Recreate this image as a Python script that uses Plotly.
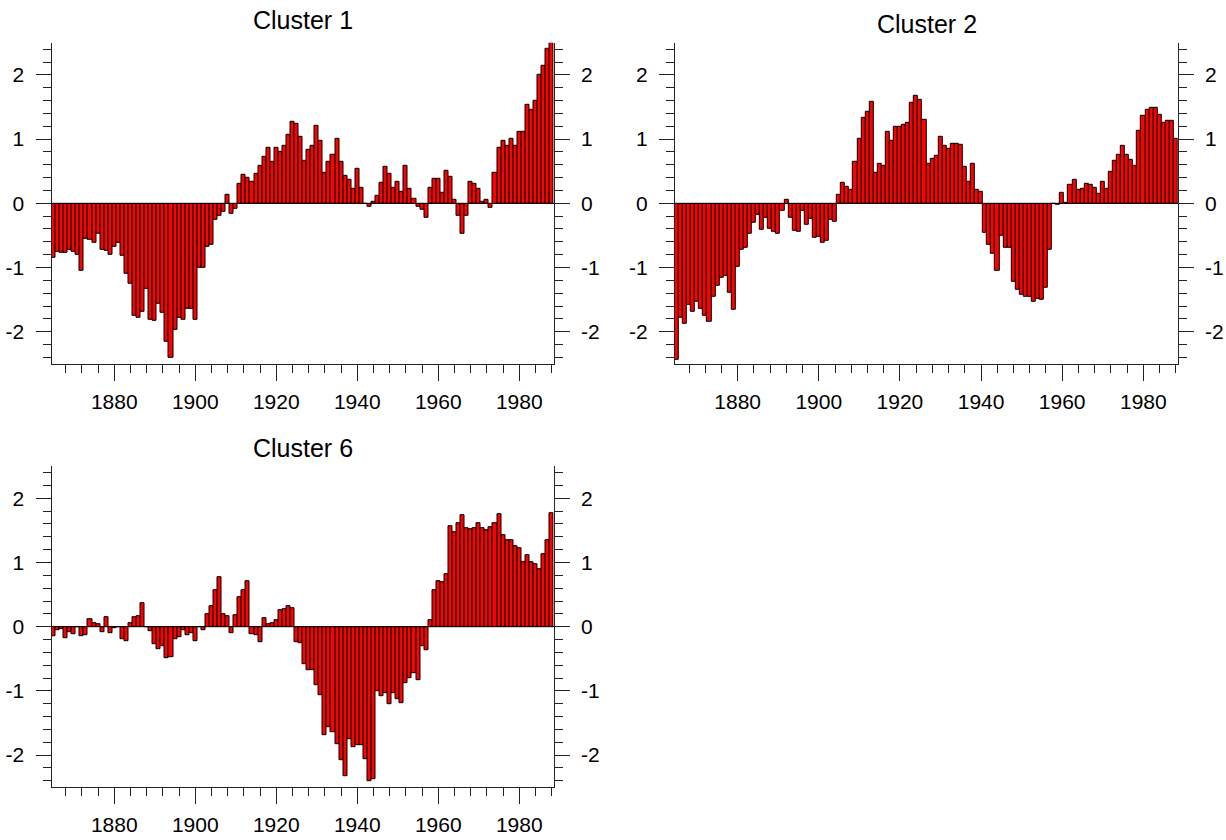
import plotly.graph_objects as go

# Years covered by each series (one bar per year)
years = list(range(1865, 1989))

cluster1 = [
    -0.85, -0.75, -0.77, -0.77, -0.72, -0.76, -0.80, -1.05, -0.56, -0.57,  # 1865-1874
    -0.61, -0.48, -0.73, -0.74, -0.80, -0.67, -0.61, -0.81, -1.10, -1.26,  # 1875-1884
    -1.75, -1.78, -1.69, -1.33, -1.81, -1.83, -1.56, -1.70, -2.15, -2.41,  # 1885-1894
    -1.97, -1.79, -1.81, -1.65, -1.64, -1.82, -1.01, -1.00, -0.67, -0.64,  # 1895-1904
    -0.25, -0.20, -0.14, 0.14, -0.16, -0.08, 0.30, 0.44, 0.40, 0.33,       # 1905-1914
    0.46, 0.59, 0.73, 0.87, 0.65, 0.86, 0.81, 0.89, 1.07, 1.27,            # 1915-1924
    1.24, 1.04, 0.66, 0.83, 0.89, 1.20, 0.98, 0.48, 0.64, 0.76,            # 1925-1934
    1.01, 0.64, 0.43, 0.36, 0.22, 0.53, 0.24, 0.00, -0.06, 0.03,           # 1935-1944
    0.12, 0.32, 0.57, 0.46, 0.24, 0.33, 0.18, 0.58, 0.22, 0.07,            # 1945-1954
    -0.05, -0.10, -0.22, 0.24, 0.38, 0.38, 0.17, 0.50, 0.42, 0.06,         # 1955-1964
    -0.20, -0.48, -0.19, 0.33, 0.30, 0.23, 0.02, 0.05, -0.07, 0.47,        # 1965-1974
    0.87, 0.97, 0.90, 1.01, 0.89, 1.11, 1.12, 1.54, 1.45, 1.60,            # 1975-1984
    2.00, 2.14, 2.41, 2.55,                                                # 1985-1988
]

cluster2 = [
    -2.43, -1.79, -1.88, -1.58, -1.69, -1.54, -1.64, -1.75, -1.85, -1.45,
    -1.28, -1.16, -1.13, -1.39, -1.66, -0.99, -0.72, -0.69, -0.47, -0.30,
    -0.18, -0.42, -0.22, -0.39, -0.45, -0.47, -0.12, 0.06, -0.22, -0.43,
    -0.45, -0.11, -0.34, -0.24, -0.53, -0.52, -0.61, -0.58, -0.26, -0.29,
    0.14, 0.32, 0.26, 0.21, 0.64, 1.00, 1.33, 1.42, 1.58, 0.48,
    0.61, 0.59, 1.11, 0.98, 1.19, 1.19, 1.23, 1.26, 1.56, 1.67,
    1.62, 1.30, 0.61, 0.70, 0.74, 1.04, 0.89, 0.85, 0.92, 0.92,
    0.91, 0.57, 0.34, 0.62, 0.21, 0.18, -0.46, -0.64, -0.79, -1.05,
    -0.50, -0.69, -0.69, -1.22, -1.34, -1.42, -1.46, -1.46, -1.53, -1.48,
    -1.51, -1.31, -0.72, 0.00, -0.02, 0.17, 0.01, 0.29, 0.36, 0.21,
    0.22, 0.31, 0.29, 0.24, 0.15, 0.33, 0.22, 0.49, 0.66, 0.76,
    0.90, 0.75, 0.67, 0.58, 1.13, 1.37, 1.45, 1.48, 1.48, 1.38,
    1.26, 1.29, 1.29, 1.00,
]

cluster6 = [
    -0.15, -0.05, -0.04, -0.18, -0.08, -0.11, -0.01, -0.15, -0.13, 0.11,
    0.05, 0.04, -0.09, 0.15, -0.10, -0.02, 0.00, -0.20, -0.22, 0.06,
    0.15, 0.16, 0.36, -0.01, -0.07, -0.27, -0.35, -0.31, -0.49, -0.48,
    -0.20, -0.17, -0.05, -0.14, -0.10, -0.23, 0.00, -0.06, 0.19, 0.32,
    0.57, 0.77, 0.19, 0.17, -0.10, 0.18, 0.46, 0.57, 0.71, -0.11,
    -0.14, -0.24, 0.13, 0.04, 0.05, 0.10, 0.26, 0.28, 0.32, 0.29,
    -0.24, -0.26, -0.59, -0.68, -0.68, -0.91, -1.07, -1.69, -1.57, -1.65,
    -1.83, -2.08, -2.33, -1.76, -1.87, -1.85, -1.85, -2.07, -2.40, -2.38,
    -1.00, -1.09, -1.04, -1.20, -1.04, -1.13, -1.19, -0.88, -0.80, -0.72,
    -0.84, -0.30, -0.37, 0.10, 0.57, 0.71, 0.70, 0.82, 1.57, 1.47,
    1.61, 1.73, 1.53, 1.52, 1.53, 1.61, 1.54, 1.50, 1.55, 1.61,
    1.75, 1.42, 1.34, 1.34, 1.26, 1.23, 1.00, 1.11, 1.00, 0.97,
    0.90, 1.13, 1.34, 1.77,
]

titles = ["Cluster 1", "Cluster 2", "Cluster 6"]
series = [cluster1, cluster2, cluster6]

# value-axis ticks and their printed labels (plain hyphen minus)
y_tickvals = [-2, -1, 0, 1, 2]
y_ticktext = ["-2", "-1", "0", "1", "2"]
x_tickvals = [1880, 1900, 1920, 1940, 1960, 1980]
x_ticktext = ["1880", "1900", "1920", "1940", "1960", "1980"]

W, H = 1226, 840
FONT = "Liberation Sans, Arial, Helvetica, sans-serif"
AXC = "#222222"
TICK_SIZE = 21

# panel boxes in pixels: (left, right, top, bottom)
boxes = [(51.5, 553.7, 42.8, 363.8),
         (674.8, 1177.8, 42.8, 363.8),
         (51.5, 553.7, 466.2, 787.2)]
# title centres in pixels (x, y)
title_pos = [(302.5, 19.5), (926.5, 24.2), (302.5, 448.2)]

fig = go.Figure()
layout = dict(
    width=W, height=H, margin=dict(l=0, r=0, t=0, b=0),
    paper_bgcolor="white", plot_bgcolor="white",
    showlegend=False, bargap=0,
    font=dict(family=FONT, color="black"),
    annotations=[],
)

for i, (vals, title, box) in enumerate(zip(series, titles, boxes)):
    n = i + 1
    xa = "x" if n == 1 else f"x{n}"
    ya = "y" if n == 1 else f"y{n}"
    yr = f"y{n + 3}"
    left, right, top, bottom = box

    fig.add_trace(go.Bar(
        x=years, y=vals, width=1.0, xaxis=xa, yaxis=ya,
        marker=dict(color="#ff0000", line=dict(color="black", width=1)),
        cliponaxis=False, hoverinfo="x+y",
    ))
    # companion trace so the right-hand value axis is drawn
    fig.add_trace(go.Scatter(
        x=years, y=vals, xaxis=xa, yaxis=yr, mode="markers",
        marker=dict(opacity=0), hoverinfo="skip",
    ))

    xkey = "xaxis" if n == 1 else f"xaxis{n}"
    ykey = "yaxis" if n == 1 else f"yaxis{n}"
    rkey = f"yaxis{n + 3}"

    layout[xkey] = dict(
        domain=[left / W, right / W], anchor=ya,
        range=[1864.5, 1988.5], showgrid=False, zeroline=False,
        showline=True, linecolor=AXC, linewidth=1,
        tickmode="array", tickvals=x_tickvals, ticktext=x_ticktext,
        ticks="outside", ticklen=16, tickcolor=AXC, tickwidth=1,
        ticklabelstandoff=3,
        tickfont=dict(size=TICK_SIZE, family=FONT, color="black"),
        minor=dict(tickmode="linear", tick0=1880, dtick=4, ticks="outside",
                   ticklen=8, tickcolor=AXC, tickwidth=1, showgrid=False),
    )
    common_y = dict(
        domain=[1 - bottom / H, 1 - top / H], range=[-2.5, 2.5],
        showgrid=False, showline=True, linecolor=AXC, linewidth=1,
        tickmode="array", tickvals=y_tickvals, ticktext=y_ticktext,
        ticks="outside", ticklen=15, tickcolor=AXC, tickwidth=1,
        ticklabelstandoff=7,
        tickfont=dict(size=TICK_SIZE, family=FONT, color="black"),
        minor=dict(tickmode="linear", tick0=0, dtick=0.2, ticks="outside",
                   ticklen=8, tickcolor=AXC, tickwidth=1, showgrid=False),
    )
    layout[ykey] = dict(common_y, anchor=xa, side="left",
                        zeroline=True, zerolinecolor="black", zerolinewidth=1)
    layout[rkey] = dict(common_y, anchor=xa, side="right",
                        overlaying=ya, zeroline=False)

    tx, ty = title_pos[i]
    layout["annotations"].append(dict(
        text=title, x=tx / W, y=1 - ty / H, xref="paper", yref="paper",
        xanchor="center", yanchor="middle", showarrow=False,
        font=dict(size=25, family=FONT, color="black"),
    ))

fig.update_layout(**layout)
fig.write_html("out.html")
